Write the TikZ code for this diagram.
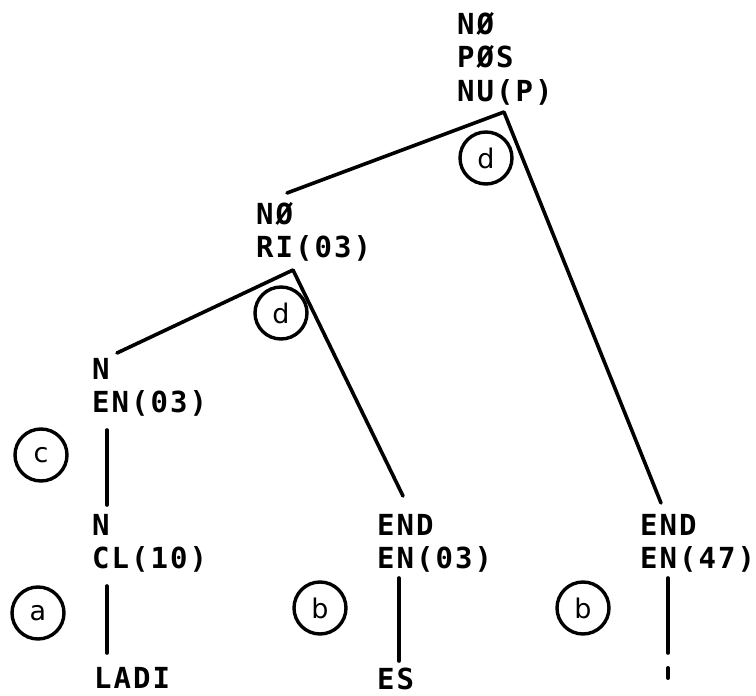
\documentclass[tikz,border=0pt]{standalone}
\usepackage{fontspec}
\newfontfamily\labfont{DejaVu Sans Mono}[LetterSpace=7]
\newfontfamily\circfont{DejaVu Sans}
\tikzset{
  lab/.style={anchor=north west, inner sep=0pt, align=left,
    font=\labfont\bfseries\fontsize{29}{33.5}\selectfont},
  tree/.style={line width=3.6pt, line cap=round, line join=round},
  tag/.style={draw, circle, line width=3.4pt, minimum size=52pt, inner sep=0pt,
    font=\circfont\fontsize{27}{27}\selectfont}
}
\begin{document}
\begin{tikzpicture}[x=1pt, y=-1pt]
\useasboundingbox[fill=white] (0,0) rectangle (756,696);
% tree nodes
\node[lab] (top) at (457,12) {NØ\\PØS\\NU(P)};
\node[lab] (mid) at (256,202) {NØ\\RI(03)};
\node[lab] (nen) at (92,358) {N\\EN(03)};
\node[lab] (ncl) at (92,514) {N\\CL(10)};
\node[lab] (endA) at (377,514) {END\\EN(03)};
\node[lab] (endB) at (640,514) {END\\EN(47)};
\node[lab] (ladi) at (94,667) {LADI};
\node[lab] (es) at (377,668) {ES};
% circled tags
\node[tag] (d1) at (486,158) {d};
\node[tag] (d2) at (281,313) {d};
\node[tag] (c) at (41,455) {c};
\node[tag] (a) at (38,613) {a};
\node[tag] (b1) at (320,608) {b};
\node[tag] (b2) at (583,608) {b};
% connector points
\coordinate (topA) at (504,112);
\coordinate (midE) at (287,193);
\coordinate (endBE) at (661,503);
\coordinate (midA) at (293,270);
\coordinate (nenE) at (117,353);
\coordinate (endAE) at (403,496);
\coordinate (nenB) at (107,430);
\coordinate (nclT) at (107,505);
\coordinate (nclB) at (107,586);
\coordinate (ladiT) at (107,653);
\coordinate (endAB) at (399,578);
\coordinate (esT) at (399,661);
\coordinate (endBB) at (668,578);
\coordinate (endBL) at (668,653);
\coordinate (tickT) at (668,668);
\coordinate (tickB) at (668,678);
% connectors
\draw[tree] (midE) -- (topA) -- (endBE);
\draw[tree] (nenE) -- (midA) -- (endAE);
\draw[tree] (nenB) -- (nclT);
\draw[tree] (nclB) -- (ladiT);
\draw[tree] (endAB) -- (esT);
\draw[tree] (endBB) -- (endBL);
\draw[tree, line width=4pt] (tickT) -- (tickB);
\end{tikzpicture}
\end{document}
